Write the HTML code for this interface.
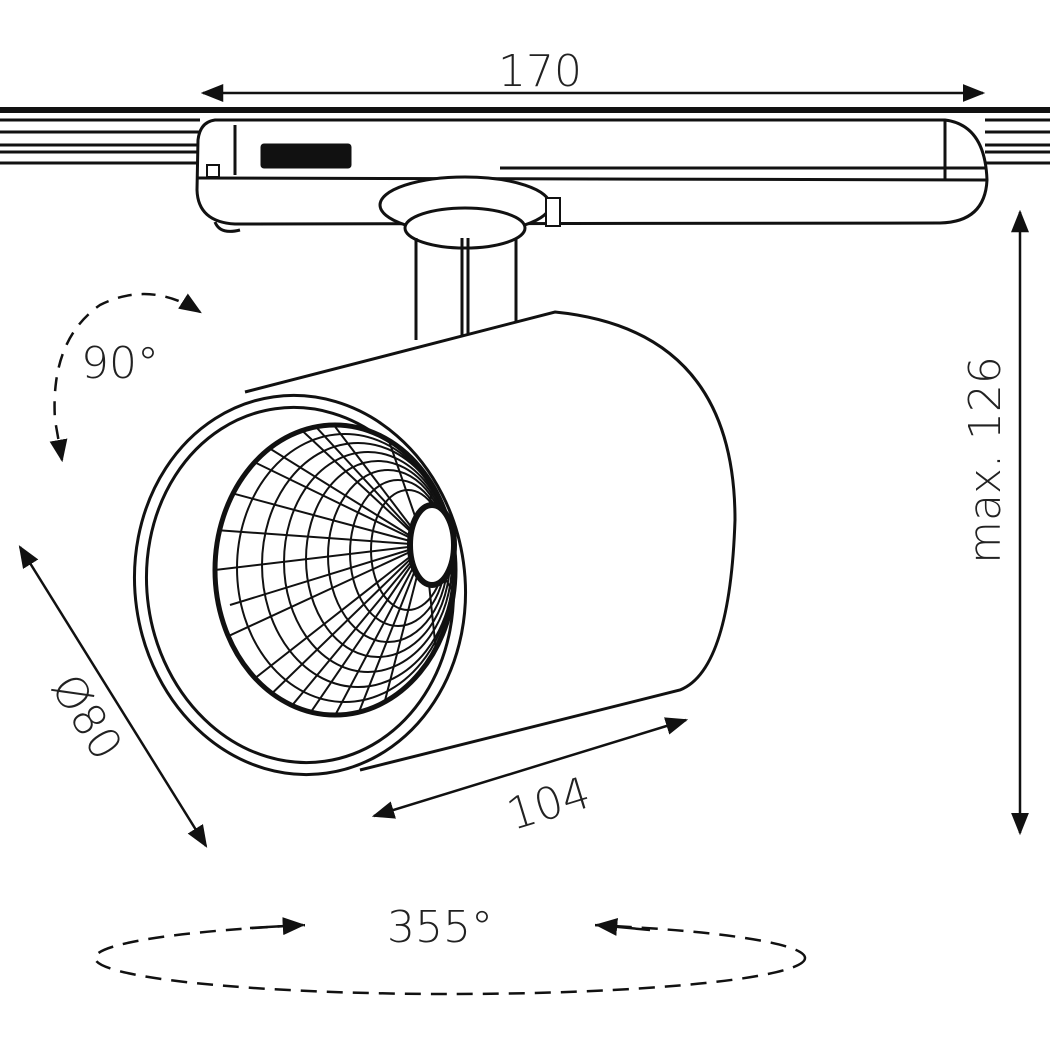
<!DOCTYPE html>
<html><head><meta charset="utf-8"><style>
html,body{margin:0;padding:0;background:#fff;width:1050px;height:1050px;overflow:hidden}
text{font-family:"DejaVu Sans","Liberation Sans",sans-serif;fill:#222;font-weight:300}
</style></head><body>
<svg width="1050" height="1050" viewBox="0 0 1050 1050" xmlns="http://www.w3.org/2000/svg">
<defs>
<marker id="a" viewBox="0 0 10 10" refX="9" refY="5" markerWidth="9" markerHeight="9" orient="auto-start-reverse"><path d="M0,1 L10,5 L0,9 z" fill="#111"/></marker>
<clipPath id="refl"><ellipse cx="335" cy="570" rx="118" ry="143"/></clipPath>
</defs>
<g stroke="#111" fill="none" stroke-width="3">
<line x1="203" y1="93" x2="983" y2="93" marker-start="url(#a)" marker-end="url(#a)" stroke-width="2.5"/>
<line x1="0" y1="110" x2="1050" y2="110" stroke-width="6"/>
<line x1="0" y1="120" x2="200" y2="120"/><line x1="0" y1="132" x2="200" y2="132"/>
<line x1="0" y1="145" x2="200" y2="145"/><line x1="0" y1="152" x2="200" y2="152"/><line x1="0" y1="163" x2="200" y2="163"/>
<line x1="985" y1="120" x2="1050" y2="120"/><line x1="985" y1="132" x2="1050" y2="132"/>
<line x1="985" y1="145" x2="1050" y2="145"/><line x1="985" y1="152" x2="1050" y2="152"/><line x1="985" y1="163" x2="1050" y2="163"/>
<path d="M215,120 L945,120 Q985,125 987,180 Q985,222 940,223 L235,224 Q198,222 197,190 L198,140 Q200,122 215,120 Z" fill="#fff"/>
<line x1="197" y1="178" x2="987" y2="180"/>
<line x1="235" y1="125" x2="235" y2="175"/>
<line x1="500" y1="168" x2="985" y2="168"/>
<line x1="945" y1="120" x2="945" y2="180"/>
<rect x="207" y="165" width="12" height="12" stroke-width="2"/>
<rect x="262" y="145" width="88" height="22" fill="#111" rx="2"/>
<path d="M215,222 Q220,235 240,230"/>
<ellipse cx="465" cy="205" rx="85" ry="28" fill="#fff"/>
<ellipse cx="465" cy="228" rx="60" ry="20" fill="#fff"/>
<rect x="546" y="198" width="14" height="28" fill="#fff" stroke-width="2"/>
<path d="M416,340 L416,238 M468,335 L468,238 M462,335 L462,238 M516,324 L516,238"/>
<path d="M245,392 L555,312 Q735,330 735,520 Q730,670 680,690 L360,770" fill="#fff"/>
<ellipse cx="300" cy="585" rx="165" ry="190" fill="#fff" transform="rotate(-8 300 585)"/>
<ellipse cx="300" cy="585" rx="153" ry="178" transform="rotate(-8 300 585)"/>
<ellipse cx="335" cy="570" rx="120" ry="145" stroke-width="5" fill="#fff"/>
<g clip-path="url(#refl)" stroke-width="2">
<ellipse cx="345" cy="568" rx="108" ry="134"/>
<ellipse cx="358" cy="565" rx="96" ry="122"/><ellipse cx="368" cy="562" rx="84" ry="110"/>
<ellipse cx="378" cy="559" rx="72" ry="98"/><ellipse cx="388" cy="556" rx="60" ry="86"/>
<ellipse cx="398" cy="553" rx="48" ry="73"/><ellipse cx="408" cy="550" rx="37" ry="60"/>
<line x1="425" y1="545" x2="215" y2="570"/><line x1="425" y1="545" x2="220" y2="490"/>
<line x1="425" y1="545" x2="240" y2="430"/><line x1="425" y1="545" x2="280" y2="410"/>
<line x1="425" y1="545" x2="330" y2="420"/><line x1="425" y1="545" x2="380" y2="415"/>
<line x1="425" y1="545" x2="440" y2="420"/><line x1="425" y1="545" x2="470" y2="470"/>
<line x1="425" y1="545" x2="220" y2="640"/><line x1="425" y1="545" x2="240" y2="690"/>
<line x1="425" y1="545" x2="280" y2="720"/><line x1="425" y1="545" x2="330" y2="725"/>
<line x1="425" y1="545" x2="380" y2="720"/><line x1="425" y1="545" x2="440" y2="690"/>
<line x1="425" y1="545" x2="470" y2="620"/><line x1="425" y1="545" x2="250" y2="460"/>
<line x1="425" y1="545" x2="230" y2="605"/><line x1="425" y1="545" x2="260" y2="705"/>
<line x1="425" y1="545" x2="305" y2="415"/><line x1="425" y1="545" x2="355" y2="722"/>
<line x1="425" y1="545" x2="215" y2="530"/><line x1="425" y1="545" x2="300" y2="728"/>
</g>
<ellipse cx="432" cy="545" rx="22" ry="40" stroke-width="6" fill="#fff"/>
<line x1="1020" y1="212" x2="1020" y2="833" marker-start="url(#a)" marker-end="url(#a)" stroke-width="2.5"/>
<line x1="20" y1="547" x2="206" y2="846" marker-start="url(#a)" marker-end="url(#a)" stroke-width="2.5"/>
<line x1="374" y1="816" x2="686" y2="720" marker-start="url(#a)" marker-end="url(#a)" stroke-width="2.5"/>
<path d="M200,312 Q150,280 100,305 Q50,340 55,420 L62,460" stroke-dasharray="14,10" marker-start="url(#a)" marker-end="url(#a)" stroke-width="2.5"/>
<ellipse cx="450" cy="958" rx="355" ry="36" stroke-dasharray="16,10" stroke-width="2.5"/>
</g>
<rect x="305" y="900" width="290" height="35" fill="#fff"/>
<g stroke="#111" stroke-width="2.5">
<line x1="250" y1="928" x2="303" y2="925" marker-end="url(#a)"/>
<line x1="650" y1="930" x2="597" y2="925" marker-end="url(#a)"/>
</g>
<text x="540" y="86" font-size="44" text-anchor="middle">170</text>
<text x="120" y="378" font-size="44" text-anchor="middle">90°</text>
<text x="440" y="942" font-size="44" text-anchor="middle">355°</text>
<text transform="translate(1000,460) rotate(-90)" font-size="44" text-anchor="middle">max. 126</text>
<text transform="translate(74,725) rotate(58)" font-size="44" text-anchor="middle">Ø80</text>
<text transform="translate(553,818) rotate(-17)" font-size="44" text-anchor="middle">104</text>
</svg>
</body></html>
